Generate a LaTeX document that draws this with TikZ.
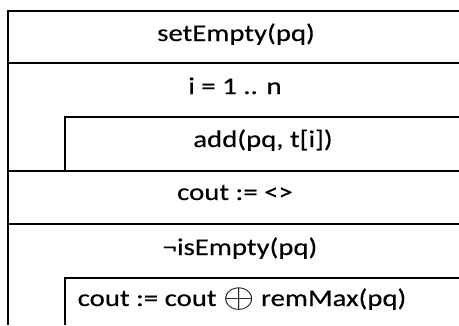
\documentclass[tikz,border=0pt]{standalone}
\usepackage{graphicx}
\usepackage{fontspec}
\setmainfont[FakeBold=0.25]{Carlito}

\begin{document}
\begin{tikzpicture}[x=1pt,y=-1pt,line width=2.6pt,line join=miter]
    \tikzstyle{cell text}=[anchor=base,inner sep=0pt,font=\fontsize{24}{28}\selectfont,xscale=1.2,transform shape]
    \useasboundingbox (0,0) rectangle (459,325);
    % outer frame, open at the right and at the bottom
    \draw (459,11) -- (8,11) -- (8,325);
    % full width row lines
    \foreach \y in {63,171,224}
        \draw (8,\y) -- (459,\y);
    % loop bodies
    \draw (459,117) -- (65,117) -- (65,171);
    \draw (459,278) -- (65,278) -- (65,325);
    % Draw the statements
      \node[cell text] (init) at (236,41) {setEmpty(pq)};
      \node[cell text] (loopA) at (235,94) {i = 1 .. n};
      \node[cell text] (bodyA) at (263,147) {add(pq, t[i])};
      \node[cell text] (assign) at (235,200) {cout := <>};
      \node[cell text] (loopB) at (240,255) {¬isEmpty(pq)};
      \node[cell text] (bodyB) at (242,306) {cout := cout \raisebox{-1pt}{\scalebox{1.35}{$\oplus$}} remMax(pq)};
\end{tikzpicture}
\end{document}
